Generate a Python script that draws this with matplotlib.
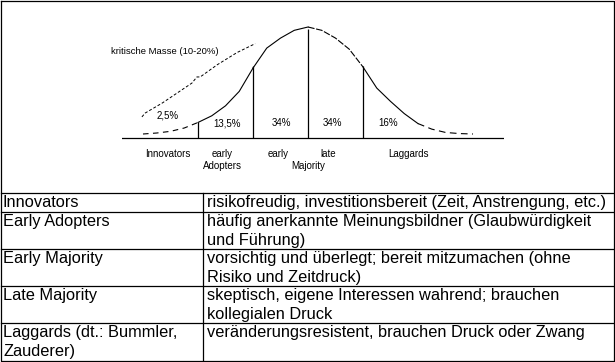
import matplotlib
matplotlib.use("Agg")
import matplotlib.pyplot as plt

plt.rcParams['font.family'] = ['Liberation Sans', 'DejaVu Sans']

# Glockenkurve (x in Standardabweichungen, y relativ zur Spitze)
curve_x = [-3.0, -2.75, -2.5, -2.25, -2.0, -1.75, -1.5, -1.25, -1.0, -0.75, -0.5, -0.25,
           0.0, 0.25, 0.5, 0.75, 1.0, 1.25, 1.5, 1.75, 2.0, 2.25, 2.5, 2.75, 3.0]
curve_y = [0.036, 0.045, 0.06, 0.09, 0.14, 0.2, 0.29, 0.42, 0.63, 0.81, 0.9, 0.97,
           1.0, 0.97, 0.9, 0.8, 0.64, 0.45, 0.33, 0.22, 0.13, 0.08, 0.05, 0.04, 0.036]

# Grenzen der Gruppen
bounds = [-2, -1, 0, 1]
bound_heights = [0.144, 0.65, 0.98, 0.65]

# kritische Masse
mass_x = [-3.02, -2.96, -2.65, -2.11, -2.02, -1.96, -1.65, -1.29, -0.96]
mass_y = [0.19, 0.225, 0.315, 0.495, 0.55, 0.55, 0.66, 0.77, 0.85]

shares = ['2,5%', '13,5%', '34%', '34%', '16%']
share_x = [-2.55, -1.47, -0.49, 0.45, 1.45]
share_y = [0.2, 0.135, 0.135, 0.135, 0.135]
groups = [['Innovators'], ['early', 'Adopters'], ['early', ''], ['late'], ['Laggards']]
group_x = [-2.55, -1.56, -0.55, 0.36, 1.82]

row_names = [['Innovators'], ['Early Adopters'], ['Early Majority'], ['Late Majority'],
             ['Laggards (dt.: Bummler,', 'Zauderer)']]
row_texts = [['risikofreudig, investitionsbereit (Zeit, Anstrengung, etc.)'],
             ['häufig anerkannte Meinungsbildner (Glaubwürdigkeit', 'und Führung)'],
             ['vorsichtig und überlegt; bereit mitzumachen (ohne', 'Risiko und Zeitdruck)'],
             ['skeptisch, eigene Interessen wahrend; brauchen', 'kollegialen Druck'],
             ['veränderungsresistent, brauchen Druck oder Zwang']]

W, H = 615, 362
fig = plt.figure(figsize=(W / 100, H / 100), dpi=100)
fig.patch.set_facecolor('white')

# Rahmen + Tabelle in Pixelkoordinaten
frame = fig.add_axes([0, 0, 1, 1])
frame.set_xlim(0, W)
frame.set_ylim(H, 0)
frame.axis('off')
lw = 0.9
frame.plot([0.5, 613.5, 613.5, 0.5, 0.5], [0.5, 0.5, 360.5, 360.5, 0.5], color='black', lw=lw)
row_tops = [193, 212, 249, 286, 323]
for y in row_tops:
    frame.plot([0.5, 613.5], [y, y], color='black', lw=lw)
frame.plot([203, 203], [193, 360.5], color='black', lw=lw)
fs = 11.8
for top, name, txt in zip(row_tops, row_names, row_texts):
    for i, line in enumerate(name):
        frame.text(3, top + 9.5 + 19 * i, line, fontsize=fs, va='center', ha='left')
    for i, line in enumerate(txt):
        frame.text(207, top + 9.5 + 19 * i, line, fontsize=fs, va='center', ha='left')

# Diagramm
X0, SD = 308, 55
Y0, HP = 138, 111
xlim = (-3.38, 3.56)
ylim = (-0.5, 1.1)
left = X0 + xlim[0] * SD
right = X0 + xlim[1] * SD
bottom = Y0 - ylim[0] * HP
top = Y0 - ylim[1] * HP
ax = fig.add_axes([left / W, 1 - bottom / H, (right - left) / W, (bottom - top) / H])
ax.set_xlim(*xlim)
ax.set_ylim(*ylim)
ax.axis('off')
ax.patch.set_alpha(0)

ax.axhline(0, color='black', lw=0.9)
ax.vlines(bounds, 0, bound_heights, color='black', lw=0.9)

styles = [(5, 4), None, None, (6, 1.5), None, (6, 4)]
for i, st in enumerate(styles):
    idx = [k for k, v in enumerate(curve_x) if i - 3 <= v <= i - 2]
    xs = [curve_x[k] for k in idx]
    ys = [curve_y[k] for k in idx]
    if st is None:
        ax.plot(xs, ys, color='black', lw=0.8)
    else:
        ax.plot(xs, ys, color='black', lw=0.8, dashes=st)

ax.plot(mass_x, mass_y, color='black', lw=0.7, dashes=(3, 2))
ax.text(-2.6, 0.775, 'kritische Masse (10-20%)', fontsize=6.8, ha='center', va='center')

cfs = 7
for sx, sy, s in zip(share_x, share_y, shares):
    ax.text(sx, sy, s, fontsize=cfs, ha='center', va='center')
for gx, g in zip(group_x, groups):
    for i, line in enumerate(g):
        ax.text(gx, -0.144 - 0.108 * i, line, fontsize=cfs, ha='center', va='center')
ax.text(0.0, -0.252, 'Majority', fontsize=cfs, ha='center', va='center')

fig.savefig('out.png', dpi=100, facecolor='white')
